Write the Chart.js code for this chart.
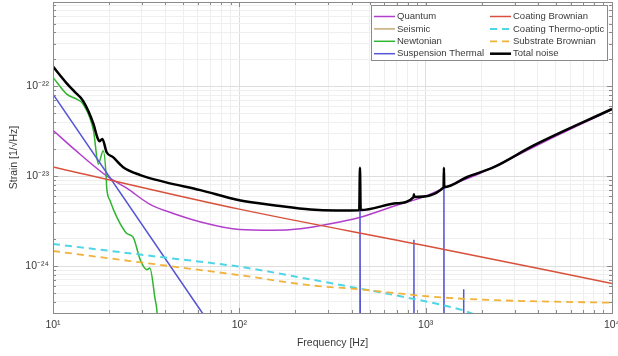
<!DOCTYPE html>
<html>
<head>
<meta charset="utf-8">
<script src="https://cdn.jsdelivr.net/npm/chart.js@4"></script>
<style>
  html, body { margin: 0; padding: 0; background: #fff; }
  #wrap { width: 618px; height: 356px; position: relative; }
</style>
</head>
<body>
<div id="wrap"><canvas id="noise-chart"></canvas></div>
<script>
// Axis ticks
const xTicks = [10, 100, 1000, 10000]
const xTickLabels = ["10¹", "10²", "10³", "10⁴"]
const yTicks = [1e-24, 1e-23, 1e-22]
const yTickLabels = ["10⁻²⁴", "10⁻²³", "10⁻²²"]

// Noise curves (frequency in Hz, strain in 1/sqrt(Hz))
const quantumFreq = [10, 13, 19.5, 25, 33, 45, 62, 100, 150, 213, 308, 447, 700, 1000, 1253, 2000, 3000, 5000, 10000]
const quantumStrain = [3.25e-23, 2.0e-23, 1.0e-23, 7.3e-24, 4.9e-24, 3.8e-24, 3.1e-24, 2.55e-24, 2.5e-24, 2.6e-24, 2.95e-24, 3.5e-24, 4.75e-24, 6.0e-24, 7.4e-24, 1.1e-23, 1.65e-23, 2.8e-23, 5.55e-23]

const seismicFreq = [10, 20, 100]
const seismicStrain = [2.5e-25, 3e-27, 1e-30]

const newtonianFreq = [10, 11.85, 13.4, 14.5, 16.5, 17.5, 18.6, 19.3, 19.4, 20.2, 22, 24.9, 26.9, 29.4, 31.9, 33.1, 35.3, 36.1, 38, 45]
const newtonianStrain = [1.26e-22, 8.2e-23, 7.2e-23, 6.35e-23, 3.2e-23, 1.37e-23, 1.92e-23, 9.75e-24, 7.6e-24, 5.4e-24, 3.5e-24, 2.3e-24, 2.1e-24, 1.17e-24, 9.1e-25, 9.5e-25, 4.3e-25, 3.2e-25, 5e-26, 1e-27]

const suspensionFreq = [10, 62, 100, 440, 444, 448, 861, 865, 869, 1248, 1253, 1258, 1594, 1600, 1606, 10000]
const suspensionStrain = [8.2e-23, 3.2e-25, 7.5e-26, 1e-27, 1.24e-23, 1e-27, 1e-27, 1.96e-24, 1e-27, 1e-27, 1.24e-23, 1e-27, 1e-27, 5.5e-25, 1e-27, 1e-28]

const coatBrownFreq = [10, 100, 1000, 10000]
const coatBrownStrain = [1.27e-23, 4.3e-24, 1.68e-24, 6.4e-25]

const coatThermoFreq = [10, 37.6, 101, 241, 447, 865, 1253, 1600, 2000, 10000]
const coatThermoStrain = [1.76e-24, 1.26e-24, 9.8e-25, 7.1e-25, 5.6e-25, 4.3e-25, 3.65e-25, 3.2e-25, 2.7e-25, 1e-25]

const subBrownFreq = [10, 37.6, 101, 241, 447, 865, 1253, 2530, 10000]
const subBrownStrain = [1.47e-24, 1.03e-24, 7.9e-25, 6.1e-25, 5.5e-25, 4.75e-25, 4.45e-25, 4.15e-25, 3.9e-25]

const totalFreq = [10, 11.85, 13, 14.5, 16.5, 17.3, 17.8, 18.4, 19.4, 21, 23.8, 29.4, 40, 61.7, 100, 160, 241, 330, 440, 444, 448, 700, 861, 865, 869, 1248, 1253, 1258, 1670, 2323, 3800, 10000]
const totalStrain = [1.66e-22, 1.08e-22, 8.8e-23, 6.9e-23, 3.8e-23, 2.7e-23, 2.45e-23, 2.6e-23, 1.85e-23, 1.63e-23, 1.26e-23, 1.03e-23, 8.6e-24, 7.0e-24, 5.4e-24, 4.7e-24, 4.25e-24, 4.15e-24, 4.18e-24, 1.24e-23, 4.2e-24, 5.0e-24, 5.85e-24, 6.3e-24, 5.87e-24, 7.5e-24, 1.24e-23, 7.55e-24, 9.8e-24, 1.26e-23, 2.2e-23, 5.6e-23]

const FONT = "'Liberation Sans', Arial, sans-serif"
const AXIS_COLOR = "#8a8a8a"
const TEXT_COLOR = "#3a3a3a"

function toPoints(freq, strain) {
  return freq.map((f, i) => ({ x: f, y: strain[i] }))
}

function series(label, freq, strain, color, extra) {
  return Object.assign({
    label: label,
    data: toPoints(freq, strain),
    borderColor: color,
    backgroundColor: color,
    borderWidth: 1.5,
    showLine: true,
    pointRadius: 0,
    pointHoverRadius: 0,
    tension: 0,
  }, extra || {})
}

// decade ticks plus the 2..9 minor ticks of a log axis
function logTicks(min, max) {
  const out = []
  for (let e = Math.floor(Math.log10(min)); e <= Math.ceil(Math.log10(max)); e++) {
    for (let m = 1; m <= 9; m++) {
      const v = m * Math.pow(10, e)
      if (v >= min * 0.999 && v <= max * 1.001) out.push(v)
    }
  }
  return out
}

function isMajor(v, majors) {
  return majors.some((m) => Math.abs(v / m - 1) < 1e-6)
}

// axes box with inward tick marks
const boxPlugin = {
  id: "box",
  afterDatasetsDraw(chart) {
    const { ctx, chartArea: a, scales } = chart
    ctx.save()
    ctx.strokeStyle = AXIS_COLOR
    ctx.lineWidth = 1
    ctx.beginPath()
    scales.x.ticks.forEach((t) => {
      const px = Math.round(scales.x.getPixelForValue(t.value)) + 0.5
      const len = isMajor(t.value, xTicks) ? 5 : 3
      ctx.moveTo(px, a.bottom); ctx.lineTo(px, a.bottom - len)
      ctx.moveTo(px, a.top); ctx.lineTo(px, a.top + len)
    })
    scales.y.ticks.forEach((t) => {
      const py = Math.round(scales.y.getPixelForValue(t.value)) + 0.5
      const len = isMajor(t.value, yTicks) ? 5 : 3
      ctx.moveTo(a.left, py); ctx.lineTo(a.left + len, py)
      ctx.moveTo(a.right, py); ctx.lineTo(a.right - len, py)
    })
    ctx.stroke()
    ctx.strokeRect(Math.round(a.left) + 0.5, Math.round(a.top) + 0.5, Math.round(a.right - a.left), Math.round(a.bottom - a.top))
    ctx.restore()
  },
}

// two-column legend box in the upper right corner
const legendPlugin = {
  id: "boxLegend",
  afterDraw(chart) {
    const ctx = chart.ctx
    const sets = chart.data.datasets
    const left = 371, top = 5, right = 607, bottom = 60
    ctx.save()
    ctx.fillStyle = "#fff"
    ctx.fillRect(left, top, right - left, bottom - top)
    ctx.strokeStyle = AXIS_COLOR
    ctx.lineWidth = 1
    ctx.strokeRect(left + 0.5, top + 0.5, right - left, bottom - top)
    ctx.font = "9.5px " + FONT
    ctx.textBaseline = "middle"
    ctx.fillStyle = TEXT_COLOR
    const cols = [{ line: 374, text: 397 }, { line: 490, text: 513 }]
    sets.forEach((ds, i) => {
      const col = cols[Math.floor(i / 4)]
      const y = 16.5 + (i % 4) * 12.4
      ctx.strokeStyle = ds.borderColor
      ctx.lineWidth = ds.borderWidth
      ctx.setLineDash(ds.borderDash || [])
      ctx.beginPath()
      ctx.moveTo(col.line, y)
      ctx.lineTo(col.line + 21, y)
      ctx.stroke()
      ctx.setLineDash([])
      ctx.fillText(ds.label, col.text, y)
    })
    ctx.restore()
  },
}

const datasets = [
  series("Quantum", quantumFreq, quantumStrain, "#b23fcc", { order: 7, cubicInterpolationMode: "monotone" }),
  series("Seismic", seismicFreq, seismicStrain, "#c4a878", { order: 6 }),
  series("Newtonian", newtonianFreq, newtonianStrain, "#2fb52f", { order: 5, cubicInterpolationMode: "monotone" }),
  series("Suspension Thermal", suspensionFreq, suspensionStrain, "#5656d6", { order: 4 }),
  series("Coating Brownian", coatBrownFreq, coatBrownStrain, "#d8503c", { order: 3, cubicInterpolationMode: "monotone" }),
  series("Coating Thermo-optic", coatThermoFreq, coatThermoStrain, "#4fd6e6", { order: 2, borderDash: [7, 5], borderWidth: 2, cubicInterpolationMode: "monotone" }),
  series("Substrate Brownian", subBrownFreq, subBrownStrain, "#f0b23c", { order: 1, borderDash: [7, 5], borderWidth: 1.8, cubicInterpolationMode: "monotone" }),
  series("Total noise", totalFreq, totalStrain, "#000000", { order: 0, borderWidth: 2.5, cubicInterpolationMode: "monotone" }),
]

const xMin = 10, xMax = 10000
const yMin = 3.2e-25, yMax = 8.7e-22

new Chart(document.getElementById("noise-chart"), {
  type: "scatter",
  data: { datasets: datasets },
  options: {
    responsive: true,
    maintainAspectRatio: false,
    animation: false,
    events: [],
    layout: { padding: { top: 2, right: 6, left: 0, bottom: 0 } },
    plugins: {
      legend: { display: false },
      tooltip: { enabled: false },
    },
    scales: {
      x: {
        type: "logarithmic",
        min: xMin,
        max: xMax,
        afterBuildTicks: (scale) => { scale.ticks = logTicks(xMin, xMax).map((v) => ({ value: v })) },
        afterFit: (scale) => { scale.height = 43; scale.paddingLeft = 0; scale.paddingRight = 0 },
        border: { display: false },
        grid: {
          drawTicks: false,
          color: (c) => (c.tick && isMajor(c.tick.value, xTicks) ? "#dedede" : "#efefef"),
        },
        ticks: {
          autoSkip: false,
          maxRotation: 0,
          padding: 6,
          color: TEXT_COLOR,
          font: { family: FONT, size: 10.5 },
          callback: (v) => {
            const i = xTicks.findIndex((m) => Math.abs(v / m - 1) < 1e-6)
            return i >= 0 ? xTickLabels[i] : ""
          },
        },
        title: {
          display: true,
          text: "Frequency [Hz]",
          color: TEXT_COLOR,
          font: { family: FONT, size: 10.5 },
          padding: { top: 0, bottom: 7 },
        },
      },
      y: {
        type: "logarithmic",
        min: yMin,
        max: yMax,
        afterBuildTicks: (scale) => { scale.ticks = logTicks(yMin, yMax).map((v) => ({ value: v })) },
        afterFit: (scale) => { scale.width = 53; scale.paddingTop = 0; scale.paddingBottom = 0 },
        border: { display: false },
        grid: {
          drawTicks: false,
          color: (c) => (c.tick && isMajor(c.tick.value, yTicks) ? "#dedede" : "#efefef"),
        },
        ticks: {
          autoSkip: false,
          padding: 4,
          color: TEXT_COLOR,
          font: { family: FONT, size: 10.5 },
          callback: (v) => {
            const i = yTicks.findIndex((m) => Math.abs(v / m - 1) < 1e-6)
            return i >= 0 ? yTickLabels[i] : ""
          },
        },
        title: {
          display: true,
          text: "Strain [1/√Hz]",
          color: TEXT_COLOR,
          font: { family: FONT, size: 10.5 },
          padding: { top: 8, bottom: 0 },
        },
      },
    },
  },
  plugins: [boxPlugin, legendPlugin],
})
</script>
</body>
</html>
